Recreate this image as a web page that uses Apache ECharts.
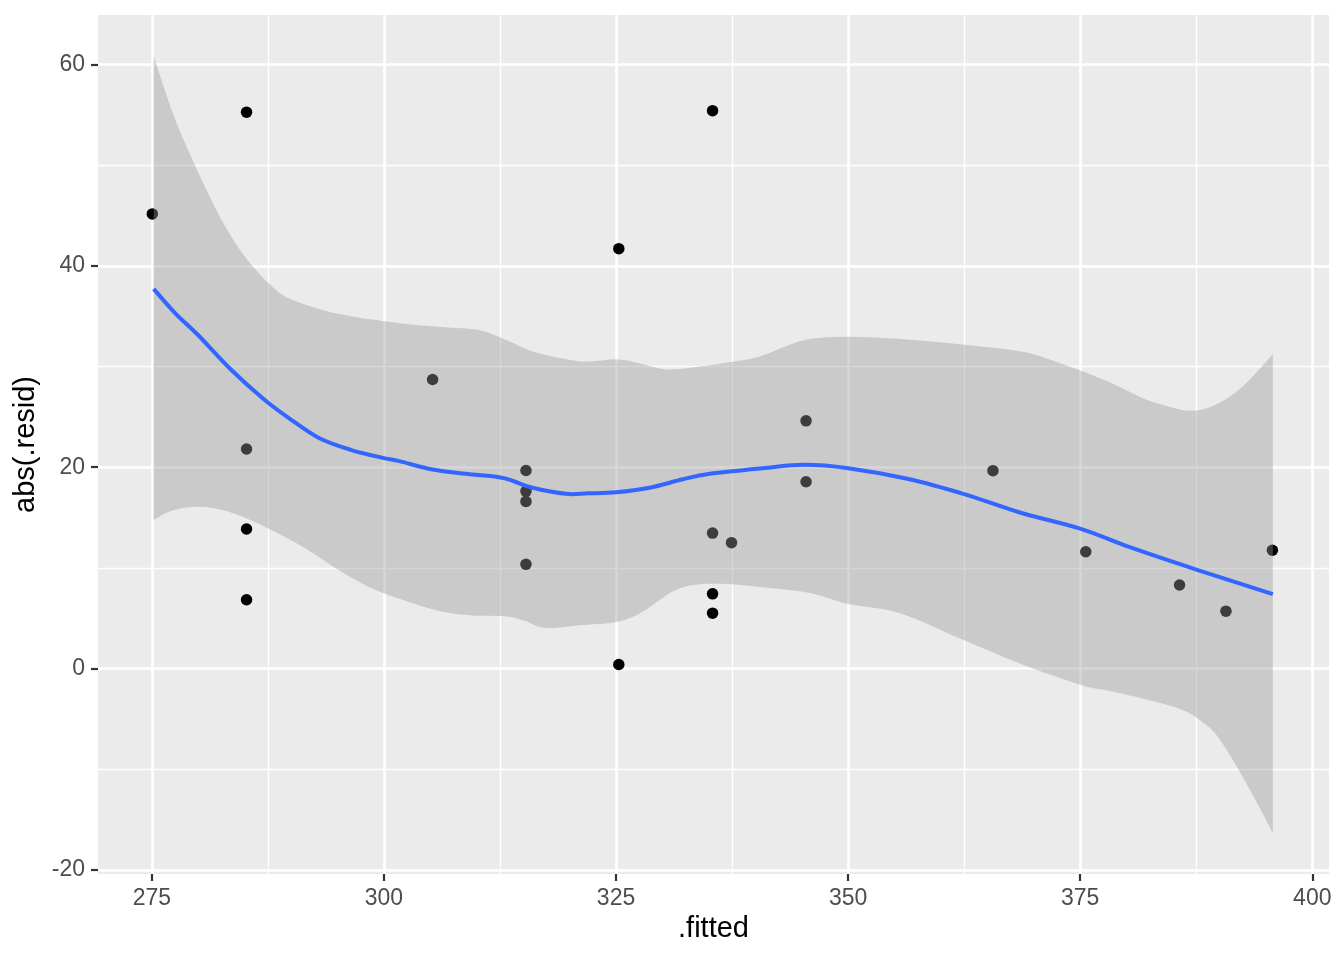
<!DOCTYPE html>
<html>
<head>
<meta charset="utf-8">
<script src="https://cdn.jsdelivr.net/npm/echarts@6/dist/echarts.min.js"></script>
<style>html,body{margin:0;padding:0;background:#fff}#c{width:1344px;height:960px}</style>
</head>
<body>
<div id="c"></div>
<script>
// scatter points (.fitted, abs(.resid))
const ptX = [275.05, 285.2, 285.2, 285.2, 285.2, 305.24, 315.3, 315.3, 315.3, 315.3, 325.3, 325.3,
             335.4, 335.4, 335.4, 335.4, 337.44, 345.47, 345.47, 365.6, 375.6, 385.7, 390.7, 395.7];
const ptY = [45.15, 55.25, 21.8, 13.86, 6.83, 28.7, 19.67, 17.6, 16.6, 10.35, 41.7, 0.4,
             55.4, 13.45, 7.42, 5.5, 12.5, 24.6, 18.55, 19.65, 11.6, 8.3, 5.7, 11.75];

// loess fit line
const fitX = [275.2, 277.5, 280, 283.4, 287, 289.8, 293, 296.5, 300, 301.65, 305.24, 308.8, 312.4, 314,
              316, 319.6, 322, 325, 328.6, 332.2, 335.1, 340.5, 345.3, 350, 356.5, 362.5, 368.5, 375,
              380.5, 387.5, 395.75];
const fitY = [37.7, 35.3, 33.1, 29.8, 26.8, 24.85, 22.9, 21.7, 20.9, 20.6, 19.77, 19.34, 19.0, 18.6,
              17.95, 17.35, 17.4, 17.5, 17.95, 18.8, 19.34, 19.87, 20.23, 19.9, 18.83, 17.33, 15.5, 13.9,
              12.0, 9.83, 7.4];

// confidence band
const upX = [275.2, 277.2, 279, 280.8, 282.6, 284.4, 286.2, 288, 289.8, 293.4, 296.9, 300, 303.8, 306.5,
             310.3, 313.5, 316.3, 321.2, 325.2, 328, 330.6, 334, 337, 340.5, 344.8, 348, 352, 356, 362,
             368.5, 372, 375, 378, 381.4, 383.5, 386.8, 389.6, 392.5, 395.75];
const upY = [60.8, 55.3, 51.3, 47.7, 44.4, 41.7, 39.6, 37.9, 36.75, 35.6, 34.9, 34.5, 34.1, 33.9,
             33.6, 32.5, 31.4, 30.5, 30.7, 30.2, 29.7, 30.0, 30.4, 31.0, 32.5, 32.9, 32.9, 32.7, 32.2,
             31.5, 30.6, 29.6, 28.5, 27.0, 26.3, 25.6, 26.2, 28.0, 31.2];
const loX = [275.2, 277.2, 280.1, 282.6, 285.1, 288, 291.6, 295.2, 298.8, 302.4, 306, 309.6, 313.2, 315,
             316.8, 318.6, 321.1, 325, 327.5, 329.7, 331, 333.3, 337, 340.5, 345.9, 350, 355.6, 362,
             368.5, 375, 378, 381.4, 385.7, 388, 390, 393.2, 395.75];
const loY = [14.75, 15.7, 16.07, 15.74, 14.95, 13.7, 11.9, 9.74, 7.92, 6.7, 5.7, 5.28, 5.18, 4.79,
             4.13, 4.06, 4.29, 4.62, 5.45, 6.8, 7.6, 8.3, 8.4, 8.1, 7.5, 6.4, 5.5, 3.0,
             0.5, -1.6, -2.2, -2.9, -4.0, -5.2, -7.0, -11.9, -16.3];

// ticks
const xMajor = [275, 300, 325, 350, 375, 400];
const xMinor = [287.5, 312.5, 337.5, 362.5, 387.5];
const yMajor = [-20, 0, 20, 40, 60];
const yMinor = [-10, 10, 30, 50];

const FONT = 'Liberation Sans, Arial, sans-serif';
const X_MIN = 269.2, X_MAX = 401.8, Y_MIN = -20.4, Y_MAX = 64.9;

const chart = echarts.init(document.getElementById('c'), null, {renderer: 'canvas'});

function majorAxis(extra) {
  return Object.assign({
    type: 'value',
    axisLine: {show: false, onZero: false},
    axisTick: {show: true, length: 7, lineStyle: {color: '#333333', width: 2.2}},
    axisLabel: {color: '#4D4D4D', fontSize: 23, fontFamily: FONT, margin: 13},
    splitLine: {show: true, lineStyle: {color: '#FFFFFF', width: 2.6}},
    nameTextStyle: {color: '#000000', fontSize: 29, fontFamily: FONT},
    nameLocation: 'middle'
  }, extra);
}
function minorAxis(extra) {
  return Object.assign({
    type: 'value',
    axisLine: {show: false, onZero: false},
    axisTick: {show: false},
    axisLabel: {show: false},
    splitLine: {show: true, lineStyle: {color: '#FFFFFF', width: 1.3}}
  }, extra);
}

const xa0 = majorAxis({min: X_MIN, max: X_MAX, position: 'bottom', name: '.fitted', nameGap: 38});
xa0.axisTick.customValues = xMajor;
xa0.axisLabel.customValues = xMajor;
const xa1 = minorAxis({min: X_MIN, max: X_MAX, position: 'top'});
xa1.axisTick.customValues = xMinor;
xa1.axisLabel.customValues = xMinor;
const ya0 = majorAxis({min: Y_MIN, max: Y_MAX, position: 'left', name: 'abs(.resid)', nameGap: 52});
ya0.axisTick.customValues = yMajor;
ya0.axisLabel.customValues = yMajor;
const ya1 = minorAxis({min: Y_MIN, max: Y_MAX, position: 'right'});
ya1.axisTick.customValues = yMinor;
ya1.axisLabel.customValues = yMinor;

// Catmull-Rom -> cubic bezier path segment through pixel points
function smoothSeg(p, start) {
  let d = start ? 'M' + p[0][0] + ' ' + p[0][1] : 'L' + p[0][0] + ' ' + p[0][1];
  for (let i = 0; i < p.length - 1; i++) {
    const p0 = p[Math.max(0, i - 1)], p1 = p[i], p2 = p[i + 1], p3 = p[Math.min(p.length - 1, i + 2)];
    const c1 = [p1[0] + (p2[0] - p0[0]) / 6, p1[1] + (p2[1] - p0[1]) / 6];
    const c2 = [p2[0] - (p3[0] - p1[0]) / 6, p2[1] - (p3[1] - p1[1]) / 6];
    d += ' C' + c1[0] + ' ' + c1[1] + ' ' + c2[0] + ' ' + c2[1] + ' ' + p2[0] + ' ' + p2[1];
  }
  return d;
}

chart.setOption({
  animation: false,
  backgroundColor: '#FFFFFF',
  grid: {left: 98, right: 15, top: 15, bottom: 86, show: true, backgroundColor: '#EBEBEB', borderWidth: 0, containLabel: false},
  xAxis: [xa0, xa1],
  yAxis: [ya0, ya1],
  series: [
    {
      type: 'scatter', xAxisIndex: 0, yAxisIndex: 0, z: 2,
      symbol: 'circle', symbolSize: 11.5,
      itemStyle: {color: '#000000', opacity: 1},
      data: ptX.map((x, i) => [x, ptY[i]])
    },
    {
      type: 'custom', xAxisIndex: 0, yAxisIndex: 0, z: 3, clip: true,
      data: upX.map((x, i) => [x, upY[i]]),
      renderItem: function (params, api) {
        if (params.dataIndex !== 0) return null;
        const up = upX.map((x, i) => api.coord([x, upY[i]]));
        const lo = loX.map((x, i) => api.coord([x, loY[i]])).reverse();
        const d = smoothSeg(up, true) + ' ' + smoothSeg(lo, false) + ' Z';
        return {type: 'path', shape: {pathData: d}, style: {fill: 'rgba(153,153,153,0.4)'}};
      }
    },
    {
      type: 'custom', xAxisIndex: 0, yAxisIndex: 0, z: 4, clip: true,
      data: fitX.map((x, i) => [x, fitY[i]]),
      renderItem: function (params, api) {
        if (params.dataIndex !== 0) return null;
        const pts = fitX.map((x, i) => api.coord([x, fitY[i]]));
        return {type: 'path', shape: {pathData: smoothSeg(pts, true)},
                style: {fill: null, stroke: '#3366FF', lineWidth: 4, lineJoin: 'round'}};
      }
    }
  ]
});
</script>
</body>
</html>
